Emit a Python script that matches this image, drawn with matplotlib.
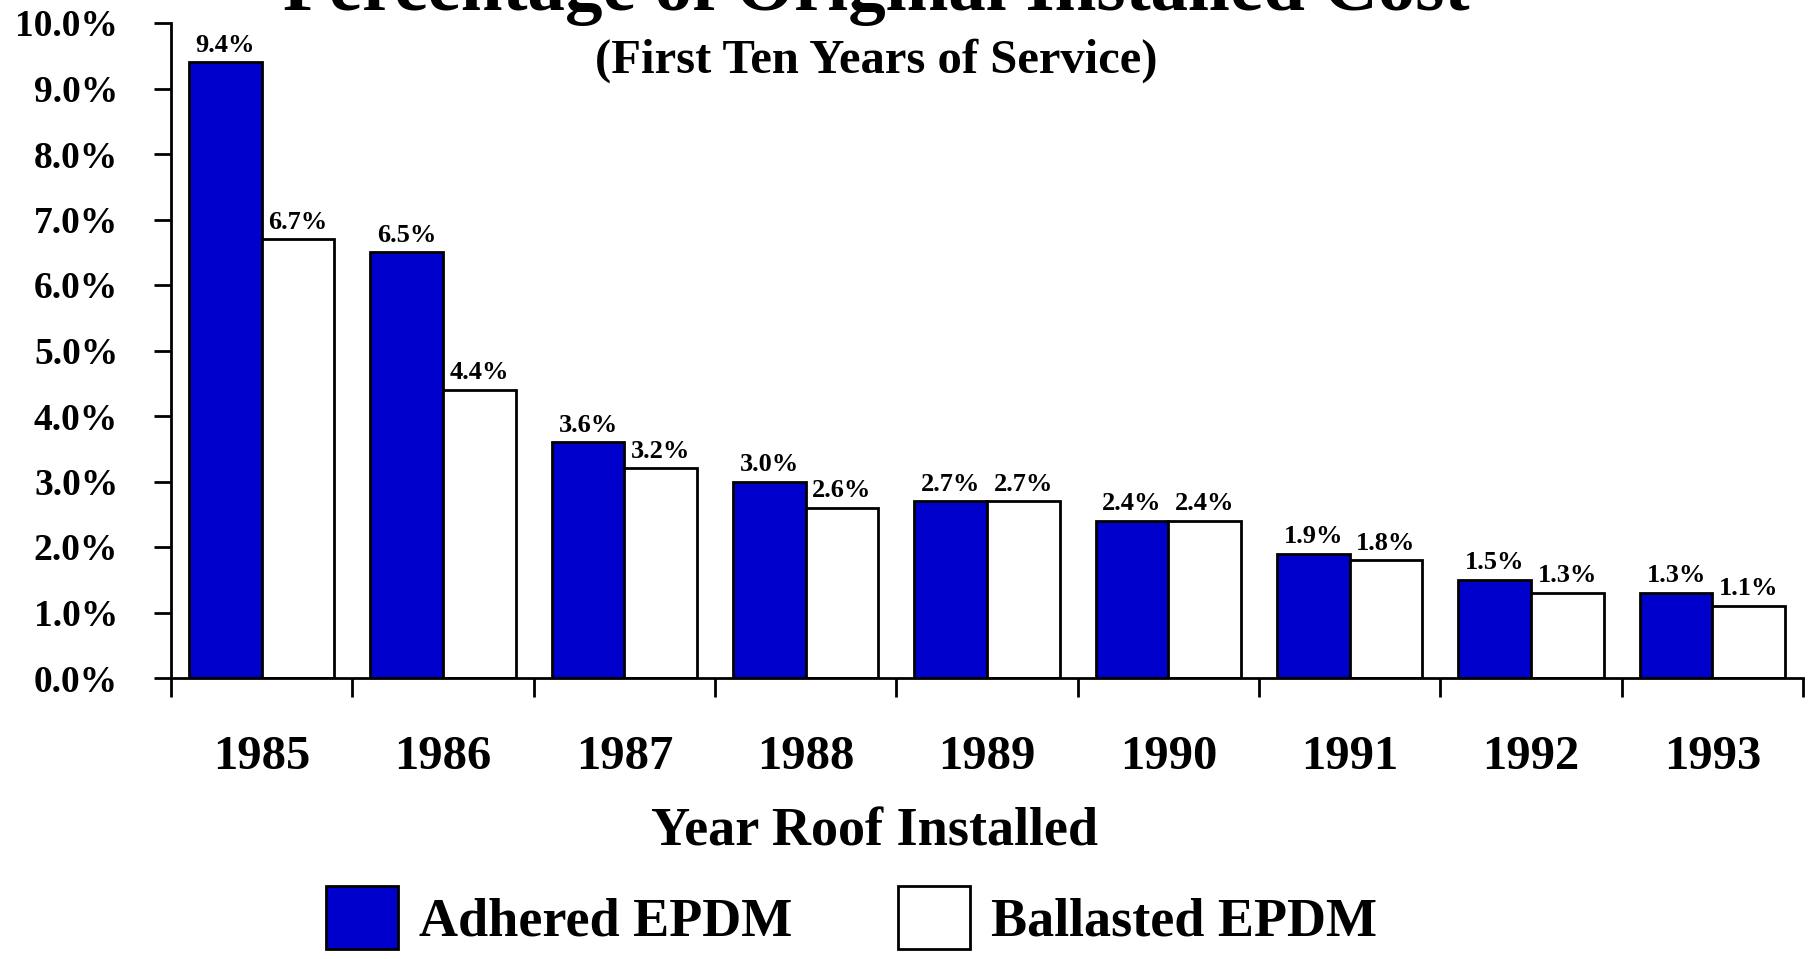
import matplotlib
matplotlib.use("Agg")
import matplotlib.pyplot as plt
import numpy as np

years = ["1985", "1986", "1987", "1988", "1989", "1990", "1991", "1992", "1993"]
adhered = [9.4, 6.5, 3.6, 3.0, 2.7, 2.4, 1.9, 1.5, 1.3]
ballasted = [6.7, 4.4, 3.2, 2.6, 2.7, 2.4, 1.8, 1.3, 1.1]
yticks = [0, 1, 2, 3, 4, 5, 6, 7, 8, 9, 10]

plt.rcParams['font.family'] = ['Liberation Serif', 'DejaVu Serif']
plt.rcParams['font.weight'] = 'bold'

fig = plt.figure(figsize=(18.14, 9.59), dpi=100)
ax = fig.add_axes([171/1814, 1-678/959, (1803-171)/1814, (678-23)/959])

x = np.arange(len(years))
w = 0.4
b1 = ax.bar(x - w/2, adhered, w, color='#0000CC', edgecolor='black', linewidth=2, label='Adhered EPDM')
b2 = ax.bar(x + w/2, ballasted, w, color='white', edgecolor='black', linewidth=2, label='Ballasted EPDM')

for bars, vals in ((b1, adhered), (b2, ballasted)):
    for r, v in zip(bars, vals):
        ax.annotate(f"{v:.1f}%", (r.get_x() + r.get_width()/2, r.get_height()),
                    xytext=(0, 4), textcoords='offset points', ha='center', va='bottom',
                    fontsize=19, fontweight='bold')

ax.set_xlim(-0.5, len(years) - 0.5)
ax.set_ylim(0, 10)
ax.set_yticks(yticks)
ax.set_yticklabels([f"{t:.1f}%" for t in yticks], fontsize=27, fontweight='bold')
ax.tick_params(axis='y', direction='out', length=12, width=2, pad=26)
ax.set_xticks(x)
ax.set_xticklabels(years, fontsize=35, fontweight='bold')
ax.tick_params(axis='x', which='major', length=0, pad=41)
ax.set_xticks(np.arange(len(years) + 1) - 0.5, minor=True)
ax.tick_params(axis='x', which='minor', direction='out', length=14, width=2)
for s in ['top', 'right']:
    ax.spines[s].set_visible(False)
for s in ['left', 'bottom']:
    ax.spines[s].set_linewidth(2)

fig.text(0.483, 0.99, "Percentage of Original Installed Cost", ha='center', va='baseline',
         fontsize=54, fontweight='bold')
fig.text(0.483, 0.924, "(First Ten Years of Service)", ha='center', va='baseline',
         fontsize=35, fontweight='bold')
fig.text(0.482, 0.132, "Year Roof Installed", ha='center', va='center',
         fontsize=39, fontweight='bold')

fig.legend(handles=[b1, b2], loc='center left', bbox_to_anchor=(326/1814, 0.043), ncol=2,
           frameon=False, handlelength=1.33, handleheight=1.4,
           handletextpad=0.39, columnspacing=1.94, borderpad=0, borderaxespad=0,
           prop={'weight': 'bold', 'size': 39})

fig.savefig("out.png", dpi=100)
